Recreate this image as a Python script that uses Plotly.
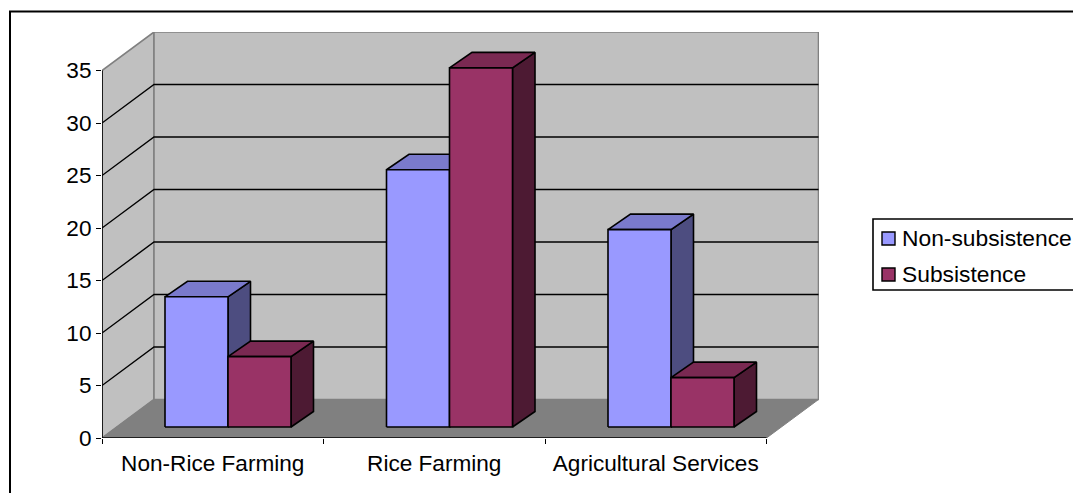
import plotly.graph_objects as go

# Chart data
categories = ["Non-Rice Farming", "Rice Farming", "Agricultural Services"]
non_subsistence = [12.4, 24.5, 18.8]
subsistence = [6.7, 34.2, 4.7]
y_ticks = [0, 5, 10, 15, 20, 25, 30, 35]

# Page layout, in pixels
W, H = 1073, 493
LEFT, RIGHT, TOP, BOTTOM = 102, 819, 32, 438
CAT_PX = 221.5
VAL_PX = 10.5

# Oblique projection: depth offsets expressed in axis units
WALL_DX, WALL_DY = 52 / CAT_PX, 38.5 / VAL_PX
BAR_INSET_DX, BAR_INSET_DY = 15 / CAT_PX, 11 / VAL_PX
BAR_DX, BAR_DY = 22.5 / CAT_PX, 15.5 / VAL_PX
BAR_W = 63 / CAT_PX
BAR_GAP = 48 / CAT_PX

WALL = "#C0C0C0"
FLOOR = "#808080"
EDGE = "#808080"
INK = "#000000"
FONT = "Liberation Sans"
FONT_SIZE = 22.6

SERIES = [
    ("Non-subsistence", non_subsistence, "#9999FF", "#7A7ACC", "#4D4D80"),
    ("Subsistence", subsistence, "#993366", "#7A2952", "#4D1A33"),
]

fig = go.Figure()


def poly(xs, ys, fill, line=INK, width=1.6, name=None):
    fig.add_trace(go.Scatter(
        x=xs + xs[:1], y=ys + ys[:1], mode="lines", fill="toself", fillcolor=fill,
        line=dict(color=line, width=width), name=name, showlegend=False,
        cliponaxis=False, hoverinfo="skip",
    ))


def segs(xs, ys, color, width):
    fig.add_trace(go.Scatter(
        x=xs, y=ys, mode="lines", line=dict(color=color, width=width),
        showlegend=False, cliponaxis=False, hoverinfo="skip",
    ))


n_cat = len(categories)
top_val = max(y_ticks)

# Side wall, back wall and floor
poly([0, WALL_DX, WALL_DX, 0], [0, WALL_DY, top_val + WALL_DY, top_val], WALL, EDGE, 1.6)
poly([WALL_DX, n_cat + WALL_DX, n_cat + WALL_DX, WALL_DX],
     [WALL_DY, WALL_DY, top_val + WALL_DY, top_val + WALL_DY], WALL, EDGE, 1.6)
poly([0, n_cat, n_cat + WALL_DX, WALL_DX], [0, 0, WALL_DY, WALL_DY], FLOOR, EDGE, 1)

# Gridlines run across the side wall and then along the back wall
gx, gy = [], []
for v in y_ticks[1:-1]:
    gx += [0, WALL_DX, n_cat + WALL_DX, None]
    gy += [v, v + WALL_DY, v + WALL_DY, None]
segs(gx, gy, INK, 1.4)

# Columns: side and top faces first, then the front face
for c in range(n_cat):
    for s, (name, vals, front, top, side) in enumerate(SERIES):
        x0 = c + BAR_INSET_DX + BAR_GAP + s * BAR_W
        x1 = x0 + BAR_W
        y0 = BAR_INSET_DY
        y1 = y0 + vals[c]
        poly([x1, x1 + BAR_DX, x1 + BAR_DX, x1], [y0, y0 + BAR_DY, y1 + BAR_DY, y1], side)
        poly([x0, x1, x1 + BAR_DX, x0 + BAR_DX], [y1, y1, y1 + BAR_DY, y1 + BAR_DY], top)
        poly([x0, x1, x1, x0], [y0, y0, y1, y1], front, name=name)

# Axis lines stop at the front edge of the plot box
segs([0, 0, n_cat], [top_val, 0, 0], INK, 1.6)


def px(x):
    return (x - LEFT) / (RIGHT - LEFT)


def py(y):
    return (BOTTOM - y) / (BOTTOM - TOP)


def rect(x0, y0, x1, y1, fill="rgba(0,0,0,0)", width=1.6):
    return dict(type="rect", xref="paper", yref="paper", x0=px(x0), x1=px(x1),
                y0=py(y0), y1=py(y1), fillcolor=fill,
                line=dict(color=INK, width=width), layer="above")


# Chart frame (it runs off the page on the right and at the bottom) and legend
shapes = [
    rect(10, 11.5, 1090, 510, width=2),
    rect(873, 219, 1090, 290),
    rect(882, 232, 895, 245, SERIES[0][2], 1.4),
    rect(882, 268, 895, 281, SERIES[1][2], 1.4),
]
annotations = [
    dict(xref="paper", yref="paper", x=px(902), y=py(yc), xanchor="left", yanchor="middle",
         text=label, showarrow=False, xshift=-2,
         font=dict(family=FONT, size=22.8, color=INK))
    for label, yc in ((SERIES[0][0], 238), (SERIES[1][0], 274))
]

fig.update_layout(
    width=W, height=H, autosize=False,
    margin=dict(l=LEFT, r=W - RIGHT, t=TOP, b=H - BOTTOM),
    paper_bgcolor="#FFFFFF", plot_bgcolor="rgba(0,0,0,0)",
    showlegend=False, shapes=shapes, annotations=annotations,
    font=dict(family=FONT, size=FONT_SIZE, color=INK),
    xaxis=dict(
        range=[0, (RIGHT - LEFT) / CAT_PX], showgrid=False, zeroline=False, showline=False,
        tickmode="array", tickvals=[i + 0.5 for i in range(n_cat)], ticktext=categories,
        ticks="outside", ticklen=5, tickwidth=0, tickcolor="rgba(0,0,0,0)",
        minor=dict(tickmode="array", tickvals=list(range(n_cat + 1)), ticks="outside",
                   ticklen=5, tickwidth=1.4, tickcolor=INK, showgrid=False),
    ),
    yaxis=dict(
        range=[0, (BOTTOM - TOP) / VAL_PX], showgrid=False, zeroline=False, showline=False,
        tickmode="array", tickvals=y_ticks, ticks="outside", ticklen=5, tickwidth=1.4,
        tickcolor=INK,
    ),
)

fig.write_html("out.html")
